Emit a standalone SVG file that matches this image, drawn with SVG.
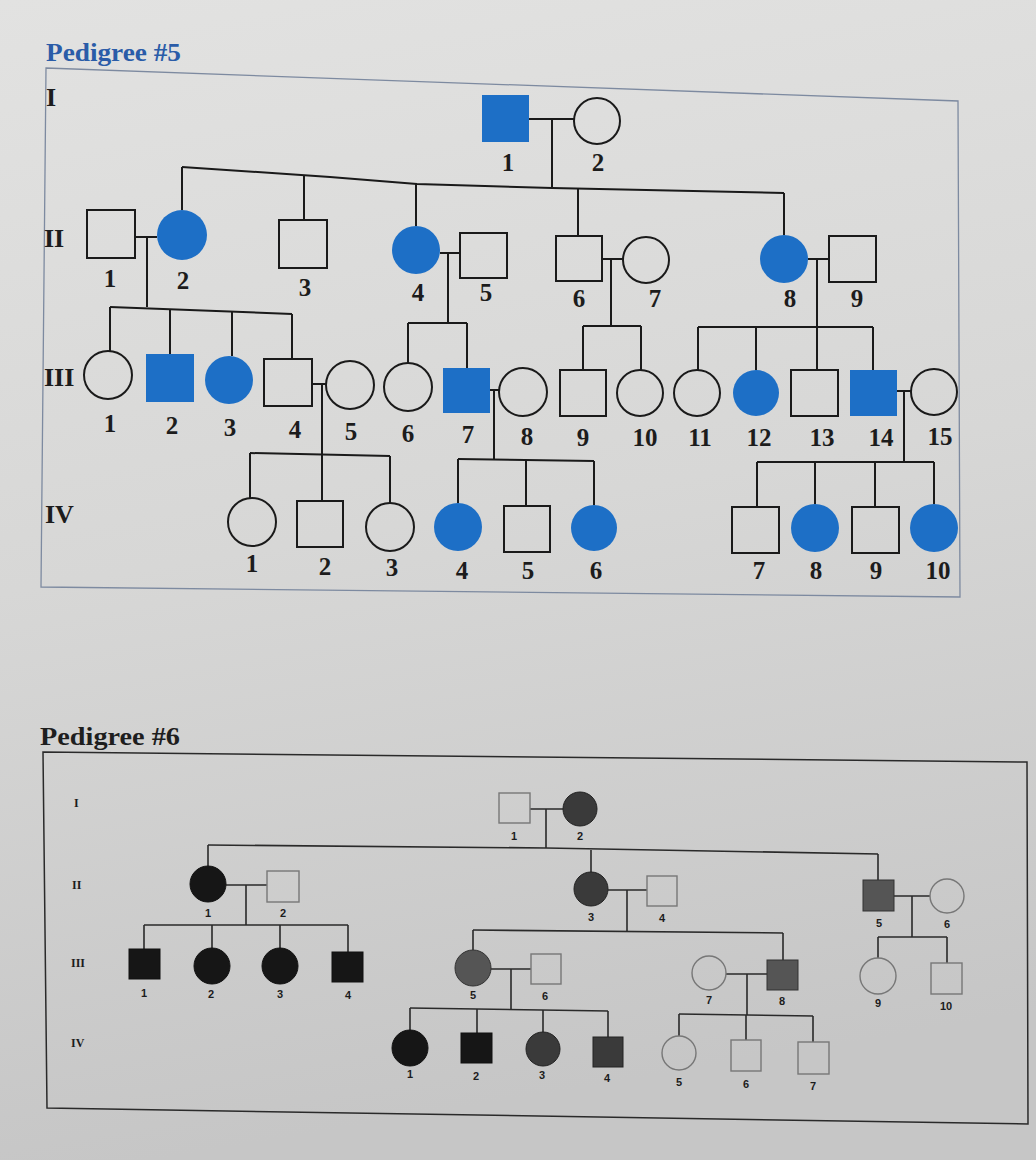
<svg xmlns="http://www.w3.org/2000/svg" width="1036" height="1160" viewBox="0 0 1036 1160">
<defs>
<linearGradient id="bg" x1="0" y1="0" x2="0.15" y2="1">
<stop offset="0" stop-color="#e2e2e1"/>
<stop offset="0.5" stop-color="#d7d7d6"/>
<stop offset="1" stop-color="#c6c6c6"/>
</linearGradient>
</defs>
<style>
.ln5{fill:none;stroke:#1a1a1a;stroke-width:2}
.ln6{fill:none;stroke:#2a2a2a;stroke-width:1.6}
.u5{fill:none;stroke:#1a1a1a;stroke-width:2}
.a5{fill:#1d6fc6;stroke:none}
.u6{fill:none;stroke:#777;stroke-width:1.4}
.blk{fill:#161616;stroke:#111;stroke-width:1}
.dk{fill:#3a3a3a;stroke:#222;stroke-width:1}
.gr{fill:#555;stroke:#333;stroke-width:1}
.n5{font-family:"Liberation Serif",serif;font-size:25px;font-weight:bold;fill:#1c1c1c;text-anchor:middle;dominant-baseline:central}
.g5{font-family:"Liberation Serif",serif;font-size:26px;font-weight:bold;fill:#1c1c1c;dominant-baseline:central}
.n6{font-family:"Liberation Sans",sans-serif;font-size:11px;font-weight:bold;fill:#1c1c1c;text-anchor:middle;dominant-baseline:central}
.g6{font-family:"Liberation Serif",serif;font-size:12px;font-weight:bold;fill:#1c1c1c;dominant-baseline:central}
</style>
<rect x="0" y="0" width="1036" height="1160" fill="url(#bg)"/>

<!-- ================= Pedigree #5 ================= -->
<text x="46" y="52" font-family="Liberation Serif,serif" font-size="26" font-weight="bold" fill="#2a5ca8" dominant-baseline="central" textLength="135" lengthAdjust="spacingAndGlyphs">Pedigree #5</text>
<polygon points="46,68 958,101 960,597 41,587" fill="none" stroke="#7d8aa0" stroke-width="1.3"/>
<text class="g5" x="46" y="97">I</text>
<text class="g5" x="44" y="238">II</text>
<text class="g5" x="44" y="377">III</text>
<text class="g5" x="45" y="514">IV</text>

<g id="p5-connectors">
<path class="ln5" d="M529,119 H574 M552,119 V188"/>
<polyline class="ln5" points="182,167 330,177 417,184 552,188 784,193"/>
<path class="ln5" d="M182,167 V210 M304,176 V220 M416,184 V226 M578,189 V236 M784,193 V235"/>
<!-- II-1 x II-2 -->
<path class="ln5" d="M135,237 H157 M147,237 V307"/>
<polyline class="ln5" points="110,307 292,314"/>
<path class="ln5" d="M110,307 V351 M170,309 V354 M232,311 V356 M292,314 V359"/>
<!-- II-4 x II-5 -->
<path class="ln5" d="M440,253 H460 M448,253 V323"/>
<path class="ln5" d="M408,323 H467 M408,323 V363 M467,323 V368"/>
<!-- II-6 x II-7 -->
<path class="ln5" d="M602,259 H623 M611,259 V326"/>
<path class="ln5" d="M583,326 H641 M583,326 V370 M641,326 V370"/>
<!-- II-8 x II-9 -->
<path class="ln5" d="M808,259 H829 M817,259 V327"/>
<path class="ln5" d="M698,327 H873 M698,327 V370 M756,327 V370 M817,327 V370 M873,327 V370"/>
<!-- III-4 x III-5 -->
<path class="ln5" d="M312,384 H326 M322,384 V455"/>
<polyline class="ln5" points="250,453 390,456"/>
<path class="ln5" d="M250,453 V498 M322,455 V501 M390,456 V503"/>
<!-- III-7 x III-8 -->
<path class="ln5" d="M490,390 H499 M494,390 V459"/>
<polyline class="ln5" points="458,459 594,461"/>
<path class="ln5" d="M458,459 V503 M526,460 V506 M594,461 V505"/>
<!-- III-14 x III-15 -->
<path class="ln5" d="M897,391 H911 M904,391 V462"/>
<path class="ln5" d="M757,462 H934 M757,462 V507 M815,462 V504 M875,462 V507 M934,462 V504"/>
</g>

<g id="p5-I-1"><rect class="a5" x="482" y="95" width="47" height="47"/><text class="n5" x="508" y="162">1</text></g>
<g id="p5-I-2"><circle class="u5" cx="597" cy="121" r="23"/><text class="n5" x="598" y="162">2</text></g>

<g id="p5-II-1"><rect class="u5" x="87" y="210" width="48" height="48"/><text class="n5" x="110" y="278">1</text></g>
<g id="p5-II-2"><circle class="a5" cx="182" cy="235" r="25"/><text class="n5" x="183" y="280">2</text></g>
<g id="p5-II-3"><rect class="u5" x="279" y="220" width="48" height="48"/><text class="n5" x="305" y="287">3</text></g>
<g id="p5-II-4"><circle class="a5" cx="416" cy="250" r="24"/><text class="n5" x="418" y="292">4</text></g>
<g id="p5-II-5"><rect class="u5" x="460" y="233" width="47" height="45"/><text class="n5" x="486" y="292">5</text></g>
<g id="p5-II-6"><rect class="u5" x="556" y="236" width="46" height="45"/><text class="n5" x="579" y="298">6</text></g>
<g id="p5-II-7"><circle class="u5" cx="646" cy="260" r="23"/><text class="n5" x="655" y="298">7</text></g>
<g id="p5-II-8"><circle class="a5" cx="784" cy="259" r="24"/><text class="n5" x="790" y="298">8</text></g>
<g id="p5-II-9"><rect class="u5" x="829" y="236" width="47" height="46"/><text class="n5" x="857" y="298">9</text></g>

<g id="p5-III-1"><circle class="u5" cx="108" cy="375" r="24"/><text class="n5" x="110" y="423">1</text></g>
<g id="p5-III-2"><rect class="a5" x="146" y="354" width="48" height="48"/><text class="n5" x="172" y="425">2</text></g>
<g id="p5-III-3"><circle class="a5" cx="229" cy="380" r="24"/><text class="n5" x="230" y="427">3</text></g>
<g id="p5-III-4"><rect class="u5" x="264" y="359" width="48" height="47"/><text class="n5" x="295" y="429">4</text></g>
<g id="p5-III-5"><circle class="u5" cx="350" cy="385" r="24"/><text class="n5" x="351" y="431">5</text></g>
<g id="p5-III-6"><circle class="u5" cx="408" cy="387" r="24"/><text class="n5" x="408" y="433">6</text></g>
<g id="p5-III-7"><rect class="a5" x="443" y="368" width="47" height="45"/><text class="n5" x="468" y="434">7</text></g>
<g id="p5-III-8"><circle class="u5" cx="523" cy="392" r="24"/><text class="n5" x="527" y="436">8</text></g>
<g id="p5-III-9"><rect class="u5" x="560" y="370" width="46" height="46"/><text class="n5" x="583" y="437">9</text></g>
<g id="p5-III-10"><circle class="u5" cx="640" cy="393" r="23"/><text class="n5" x="645" y="437">10</text></g>
<g id="p5-III-11"><circle class="u5" cx="697" cy="393" r="23"/><text class="n5" x="700" y="437">11</text></g>
<g id="p5-III-12"><circle class="a5" cx="756" cy="393" r="23"/><text class="n5" x="759" y="437">12</text></g>
<g id="p5-III-13"><rect class="u5" x="791" y="370" width="47" height="46"/><text class="n5" x="822" y="437">13</text></g>
<g id="p5-III-14"><rect class="a5" x="850" y="370" width="47" height="46"/><text class="n5" x="881" y="437">14</text></g>
<g id="p5-III-15"><circle class="u5" cx="934" cy="392" r="23"/><text class="n5" x="940" y="436">15</text></g>

<g id="p5-IV-1"><circle class="u5" cx="252" cy="522" r="24"/><text class="n5" x="252" y="563">1</text></g>
<g id="p5-IV-2"><rect class="u5" x="297" y="501" width="46" height="46"/><text class="n5" x="325" y="566">2</text></g>
<g id="p5-IV-3"><circle class="u5" cx="390" cy="527" r="24"/><text class="n5" x="392" y="567">3</text></g>
<g id="p5-IV-4"><circle class="a5" cx="458" cy="527" r="24"/><text class="n5" x="462" y="570">4</text></g>
<g id="p5-IV-5"><rect class="u5" x="504" y="506" width="46" height="46"/><text class="n5" x="528" y="570">5</text></g>
<g id="p5-IV-6"><circle class="a5" cx="594" cy="528" r="23"/><text class="n5" x="596" y="570">6</text></g>
<g id="p5-IV-7"><rect class="u5" x="732" y="507" width="47" height="46"/><text class="n5" x="759" y="570">7</text></g>
<g id="p5-IV-8"><circle class="a5" cx="815" cy="528" r="24"/><text class="n5" x="816" y="570">8</text></g>
<g id="p5-IV-9"><rect class="u5" x="852" y="507" width="47" height="46"/><text class="n5" x="876" y="570">9</text></g>
<g id="p5-IV-10"><circle class="a5" cx="934" cy="528" r="24"/><text class="n5" x="938" y="570">10</text></g>

<!-- ================= Pedigree #6 ================= -->
<text x="40" y="736" font-family="Liberation Serif,serif" font-size="26" font-weight="bold" fill="#1e1e1e" dominant-baseline="central" textLength="140" lengthAdjust="spacingAndGlyphs">Pedigree #6</text>
<polygon points="43,752 1027,762 1028,1124 47,1108" fill="none" stroke="#2a2a2a" stroke-width="1.5"/>
<text class="g6" x="74" y="803">I</text>
<text class="g6" x="72" y="885">II</text>
<text class="g6" x="71" y="963">III</text>
<text class="g6" x="71" y="1043">IV</text>

<g id="p6-connectors">
<path class="ln6" d="M530,809 H563 M546,809 V848"/>
<polyline class="ln6" points="208,845 546,848 878,854"/>
<path class="ln6" d="M208,845 V866 M591,850 V872 M878,854 V880"/>
<!-- II-1 x II-2 -->
<path class="ln6" d="M226,885 H267 M246,885 V925"/>
<path class="ln6" d="M144,925 H348 M144,925 V949 M212,925 V948 M280,925 V948 M348,925 V952"/>
<!-- II-3 x II-4 -->
<path class="ln6" d="M608,890 H647 M627,890 V931"/>
<polyline class="ln6" points="473,930 783,933"/>
<path class="ln6" d="M473,930 V950 M783,933 V960"/>
<!-- II-5 x II-6 -->
<path class="ln6" d="M894,896 H930 M912,896 V937"/>
<path class="ln6" d="M878,937 H947 M878,937 V958 M947,937 V963"/>
<!-- III-5 x III-6 -->
<path class="ln6" d="M491,969 H531 M511,969 V1009"/>
<polyline class="ln6" points="410,1008 608,1011"/>
<path class="ln6" d="M410,1008 V1030 M477,1009 V1033 M543,1010 V1032 M608,1011 V1037"/>
<!-- III-7 x III-8 -->
<path class="ln6" d="M726,974 H767 M747,974 V1015"/>
<polyline class="ln6" points="679,1014 813,1016"/>
<path class="ln6" d="M679,1014 V1036 M746,1015 V1040 M813,1016 V1042"/>
</g>

<g id="p6-I-1"><rect class="u6" x="499" y="793" width="31" height="30"/><text class="n6" x="514" y="836">1</text></g>
<g id="p6-I-2"><circle class="dk" cx="580" cy="809" r="17"/><text class="n6" x="580" y="836">2</text></g>

<g id="p6-II-1"><circle class="blk" cx="208" cy="884" r="18"/><text class="n6" x="208" y="913">1</text></g>
<g id="p6-II-2"><rect class="u6" x="267" y="871" width="32" height="31"/><text class="n6" x="283" y="913">2</text></g>
<g id="p6-II-3"><circle class="dk" cx="591" cy="889" r="17"/><text class="n6" x="591" y="917">3</text></g>
<g id="p6-II-4"><rect class="u6" x="647" y="876" width="30" height="30"/><text class="n6" x="662" y="918">4</text></g>
<g id="p6-II-5"><rect class="gr" x="863" y="880" width="31" height="31"/><text class="n6" x="879" y="923">5</text></g>
<g id="p6-II-6"><circle class="u6" cx="947" cy="896" r="17"/><text class="n6" x="947" y="924">6</text></g>

<g id="p6-III-1"><rect class="blk" x="129" y="949" width="31" height="30"/><text class="n6" x="144" y="993">1</text></g>
<g id="p6-III-2"><circle class="blk" cx="212" cy="966" r="18"/><text class="n6" x="211" y="994">2</text></g>
<g id="p6-III-3"><circle class="blk" cx="280" cy="966" r="18"/><text class="n6" x="280" y="994">3</text></g>
<g id="p6-III-4"><rect class="blk" x="332" y="952" width="31" height="30"/><text class="n6" x="348" y="995">4</text></g>
<g id="p6-III-5"><circle class="gr" cx="473" cy="968" r="18"/><text class="n6" x="473" y="995">5</text></g>
<g id="p6-III-6"><rect class="u6" x="531" y="954" width="30" height="30"/><text class="n6" x="545" y="996">6</text></g>
<g id="p6-III-7"><circle class="u6" cx="709" cy="973" r="17"/><text class="n6" x="709" y="1000">7</text></g>
<g id="p6-III-8"><rect class="gr" x="767" y="960" width="31" height="30"/><text class="n6" x="782" y="1001">8</text></g>
<g id="p6-III-9"><circle class="u6" cx="878" cy="976" r="18"/><text class="n6" x="878" y="1003">9</text></g>
<g id="p6-III-10"><rect class="u6" x="931" y="963" width="31" height="31"/><text class="n6" x="946" y="1006">10</text></g>

<g id="p6-IV-1"><circle class="blk" cx="410" cy="1048" r="18"/><text class="n6" x="410" y="1074">1</text></g>
<g id="p6-IV-2"><rect class="blk" x="461" y="1033" width="31" height="30"/><text class="n6" x="476" y="1076">2</text></g>
<g id="p6-IV-3"><circle class="dk" cx="543" cy="1049" r="17"/><text class="n6" x="542" y="1075">3</text></g>
<g id="p6-IV-4"><rect class="dk" x="593" y="1037" width="30" height="30"/><text class="n6" x="607" y="1078">4</text></g>
<g id="p6-IV-5"><circle class="u6" cx="679" cy="1053" r="17"/><text class="n6" x="679" y="1082">5</text></g>
<g id="p6-IV-6"><rect class="u6" x="731" y="1040" width="30" height="31"/><text class="n6" x="746" y="1084">6</text></g>
<g id="p6-IV-7"><rect class="u6" x="798" y="1042" width="31" height="32"/><text class="n6" x="813" y="1086">7</text></g>
</svg>
